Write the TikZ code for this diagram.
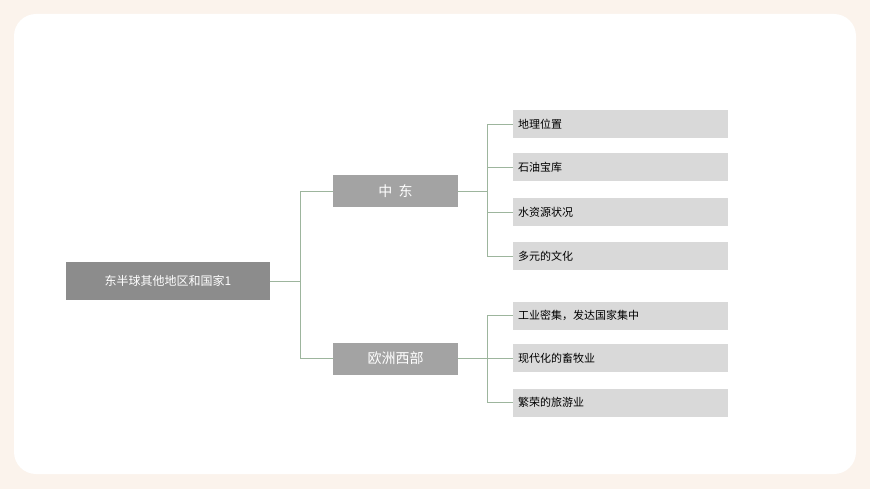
\documentclass[tikz,border=0pt]{standalone}
\usepackage{fontspec}
\newfontfamily\cjk{Noto Sans CJK SC}
\definecolor{bgc}{HTML}{FBF3EC}
\definecolor{rootc}{HTML}{8C8C8C}
\definecolor{midc}{HTML}{A3A3A3}
\definecolor{leafc}{HTML}{D9D9D9}
\definecolor{linec}{HTML}{9DB59D}
\tikzset{
 box/.style={draw=none,inner sep=0pt,minimum height=#1},
 rootbox/.style={box=38pt,fill=rootc,minimum width=204pt,text=white,font=\cjk\fontsize{12}{12}\selectfont},
 midbox/.style={box=32pt,fill=midc,minimum width=125pt,text=white,font=\cjk\fontsize{14}{14}\selectfont},
 leafbox/.style={box=28pt,fill=leafc,minimum width=215pt,text width=205pt,align=left,font=\cjk\fontsize{11}{11}\selectfont},
 conn/.style={draw=linec,line width=0.6pt}
}
\begin{document}
\begin{tikzpicture}[x=1pt,y=-1pt]
\useasboundingbox (0,0) rectangle (870,489);
\fill[bgc] (0,0) rectangle (870,489);
\fill[white,rounded corners=22pt] (14,14) rectangle (856,474);
\node[rootbox] (root) at (168,281) {东半球其他地区和国家1};
\node[midbox] (me) at (395.5,191) {中\ \ 东};
\node[midbox] (eu) at (395.5,358.5) {欧洲西部};
\node[leafbox] (l1) at (620.5,124) {地理位置};
\node[leafbox] (l2) at (620.5,167) {石油宝库};
\node[leafbox] (l3) at (620.5,212) {水资源状况};
\node[leafbox] (l4) at (620.5,256) {多元的文化};
\node[leafbox] (l5) at (620.5,315.5) {工业密集，发达国家集中};
\node[leafbox] (l6) at (620.5,358) {现代化的畜牧业};
\node[leafbox] (l7) at (620.5,402.5) {繁荣的旅游业};
\coordinate (j0) at (300,281);
\draw[conn] (root.east) -- (j0);
\foreach \t in {me,eu} \draw[conn] (j0) |- (\t.west);
\coordinate (j1) at (487,191);
\draw[conn] (me.east) -- (j1);
\foreach \t in {l1,l2,l3,l4} \draw[conn] (j1) |- (\t.west);
\coordinate (j2) at (487,358.5);
\draw[conn] (eu.east) -- (j2);
\foreach \t in {l5,l6,l7} \draw[conn] (j2) |- (\t.west);
\end{tikzpicture}
\end{document}
